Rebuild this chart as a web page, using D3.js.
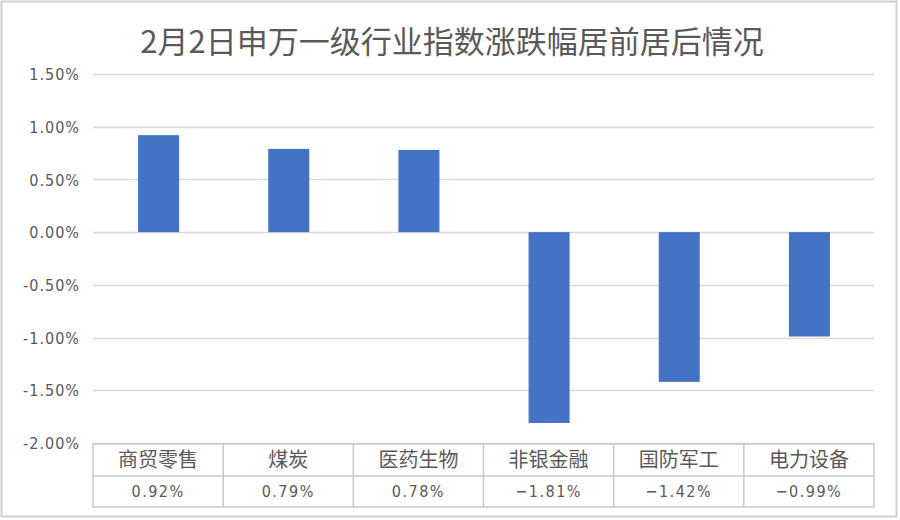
<!DOCTYPE html>
<html><head><meta charset="utf-8">
<script src="https://cdn.jsdelivr.net/npm/d3@7"></script>
<style>body{margin:0;background:#fff;}svg{display:block;}</style>
</head><body>
<svg id="c" width="900" height="520"></svg>
<script>
const categories = ["商贸零售","煤炭","医药生物","非银金融","国防军工","电力设备"];
const values = [0.92, 0.79, 0.78, -1.81, -1.42, -0.99];
const valueLabels = ["0.92%","0.79%","0.78%","−1.81%","−1.42%","−0.99%"];
const yTicks = [1.5, 1.0, 0.5, 0.0, -0.5, -1.0, -1.5, -2.0];
const title = "2月2日申万一级行业指数涨跌幅居前居后情况";

const svg = d3.select("#c");
const font = "'Noto Sans CJK SC','Noto Sans',sans-serif";
const textColor = "#595959";

svg.append("rect").attr("x",1.5).attr("y",1.5).attr("width",895).attr("height",515)
  .attr("fill","#fff").attr("stroke","#d0d0d0").attr("stroke-width",2);

svg.append("text").attr("x",452).attr("y",53).attr("text-anchor","middle")
  .attr("font-family",font).attr("font-size",31).attr("fill",textColor).text(title);

const left = 93, right = 874;
const y = d3.scaleLinear().domain([-2, 1.5]).range([443, 74]);
const x = d3.scaleBand().domain(categories).range([left, right]).paddingInner(0).paddingOuter(0);

// gridlines
svg.append("g").selectAll("line").data(yTicks).join("line")
  .attr("x1",left).attr("x2",right).attr("y1",d=>Math.round(y(d))+0.5).attr("y2",d=>Math.round(y(d))+0.5)
  .attr("stroke","#d9d9d9").attr("stroke-width",1.5);

// y axis labels
const yAxis = d3.axisLeft(y).tickValues(yTicks).tickSize(0).tickPadding(0)
  .tickFormat(d => (d<0?"-":"") + Math.abs(d).toFixed(2) + "%");
const gy = svg.append("g").attr("transform",`translate(80,0)`).call(yAxis);
gy.select(".domain").remove();
gy.selectAll("text").attr("font-family","'Liberation Sans Narrow','DejaVu Sans Condensed',sans-serif")
  .attr("font-size",16).attr("fill",textColor).attr("letter-spacing",1).attr("dy","0.35em");

// bars
const bw = 41;
svg.append("g").selectAll("rect").data(values).join("rect")
  .attr("x",(d,i)=>x(categories[i]) + x.bandwidth()/2 - bw/2 + 0.5)
  .attr("width",bw)
  .attr("y",d=>y(Math.max(0,d)))
  .attr("height",d=>Math.abs(y(d)-y(0)))
  .attr("fill","#4472C4");

// table
const t0 = 444, t1 = 476, t2 = 507;
const tg = svg.append("g");
const tc = "#c8c8c8";
tg.append("rect").attr("x",left).attr("y",t0).attr("width",right-left).attr("height",t2-t0)
  .attr("fill","none").attr("stroke",tc).attr("stroke-width",1.5);
tg.append("line").attr("x1",left).attr("x2",right).attr("y1",t1).attr("y2",t1).attr("stroke",tc).attr("stroke-width",1.5);
tg.selectAll("line.v").data(categories.slice(1)).join("line").attr("class","v")
  .attr("x1",d=>x(d)).attr("x2",d=>x(d)).attr("y1",t0).attr("y2",t2).attr("stroke",tc).attr("stroke-width",1.5);
tg.selectAll("text.cat").data(categories).join("text").attr("class","cat")
  .attr("x",d=>x(d)+x.bandwidth()/2).attr("y",(t0+t1)/2).attr("dy","0.36em")
  .attr("text-anchor","middle").attr("font-family",font).attr("font-size",20).attr("fill",textColor).text(d=>d);
tg.selectAll("text.val").data(valueLabels).join("text").attr("class","val")
  .attr("x",(d,i)=>x(categories[i])+x.bandwidth()/2).attr("y",(t1+t2)/2).attr("dy","0.36em")
  .attr("text-anchor","middle").attr("font-family","'Liberation Sans Narrow','DejaVu Sans Condensed',sans-serif")
  .attr("font-size",16).attr("letter-spacing",1.5).attr("fill",textColor).text(d=>d);
</script>
</body></html>
